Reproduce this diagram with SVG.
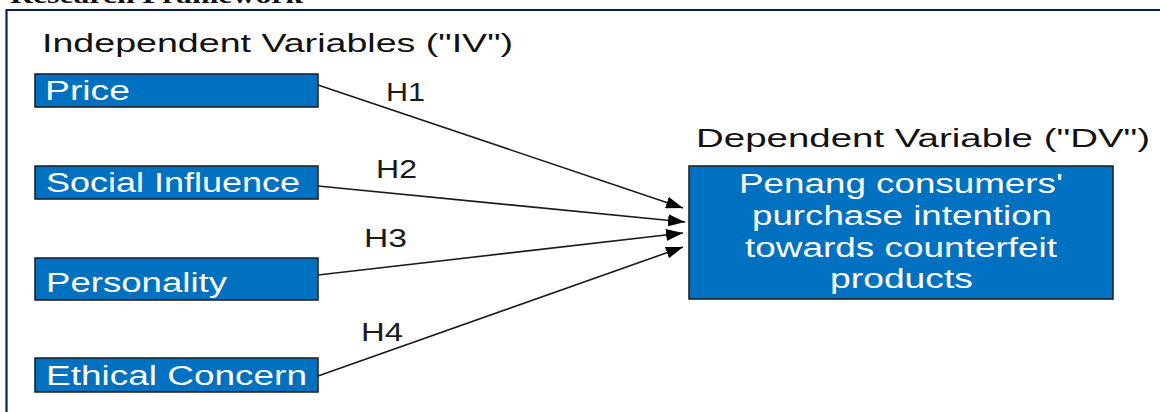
<svg xmlns="http://www.w3.org/2000/svg" width="1160" height="412" viewBox="0 0 1160 412">
<style>
.box{fill:#0070C0;stroke:#1a1a1a;stroke-width:1.5}
.bt{fill:#ffffff;font-family:"Liberation Sans",Arial,sans-serif;font-size:27px}
.hd{fill:#111111;font-family:"Liberation Sans",Arial,sans-serif;font-size:26px}
.lb{fill:#1a1a1a;font-family:"Liberation Sans",Arial,sans-serif;font-size:25px}
.cn{stroke:#1a1a1a;stroke-width:1.6;fill:none;marker-end:url(#ah)}
</style>
<defs>
<marker id="ah" markerUnits="userSpaceOnUse" markerWidth="17" markerHeight="12" refX="17" refY="6" orient="auto">
<path d="M0,0 L17,6 L0,12 z" fill="#000000"/>
</marker>
</defs>
<rect width="1160" height="412" fill="#ffffff"/>
<text x="10" y="3" font-family="'Liberation Serif','Times New Roman',serif" font-weight="bold" font-size="24" fill="#111" textLength="293" lengthAdjust="spacingAndGlyphs">Research Framework</text>
<path d="M6.5,412 V10 H1160" fill="none" stroke="#002060" stroke-width="2.2"/>
<text class="hd" x="42" y="52" textLength="471" lengthAdjust="spacingAndGlyphs">Independent Variables ("IV")</text>
<text class="hd" x="696" y="147" textLength="454" lengthAdjust="spacingAndGlyphs">Dependent Variable ("DV")</text>
<g id="price">
<rect class="box" x="35" y="74" width="283" height="33"/>
<text class="bt" x="45" y="100" textLength="85" lengthAdjust="spacingAndGlyphs">Price</text>
</g>
<g id="social">
<rect class="box" x="35" y="166" width="283" height="33"/>
<text class="bt" x="46" y="192" textLength="254" lengthAdjust="spacingAndGlyphs">Social Influence</text>
</g>
<g id="personality">
<rect class="box" x="35" y="258" width="283" height="42"/>
<text class="bt" x="46" y="292" textLength="181" lengthAdjust="spacingAndGlyphs">Personality</text>
</g>
<g id="ethical">
<rect class="box" x="35" y="358" width="283" height="34"/>
<text class="bt" x="46" y="385" textLength="261" lengthAdjust="spacingAndGlyphs">Ethical Concern</text>
</g>
<g id="dv">
<rect class="box" x="689" y="166" width="424" height="133"/>
<text class="bt" x="739" y="193" textLength="324" lengthAdjust="spacingAndGlyphs">Penang consumers'</text>
<text class="bt" x="752" y="225" textLength="300" lengthAdjust="spacingAndGlyphs">purchase intention</text>
<text class="bt" x="745" y="257" textLength="312" lengthAdjust="spacingAndGlyphs">towards counterfeit</text>
<text class="bt" x="830" y="288" textLength="143" lengthAdjust="spacingAndGlyphs">products</text>
</g>
<g id="connectors">
<line class="cn" x1="318" y1="85" x2="683" y2="208"/>
<line class="cn" x1="318" y1="186" x2="685" y2="222"/>
<line class="cn" x1="318" y1="275" x2="683" y2="233"/>
<line class="cn" x1="318" y1="376" x2="683" y2="247"/>
<text class="lb" x="386" y="101" textLength="39" lengthAdjust="spacingAndGlyphs">H1</text>
<text class="lb" x="376" y="178" textLength="41" lengthAdjust="spacingAndGlyphs">H2</text>
<text class="lb" x="364" y="247" textLength="43" lengthAdjust="spacingAndGlyphs">H3</text>
<text class="lb" x="361" y="341" textLength="42" lengthAdjust="spacingAndGlyphs">H4</text>
</g>
</svg>
